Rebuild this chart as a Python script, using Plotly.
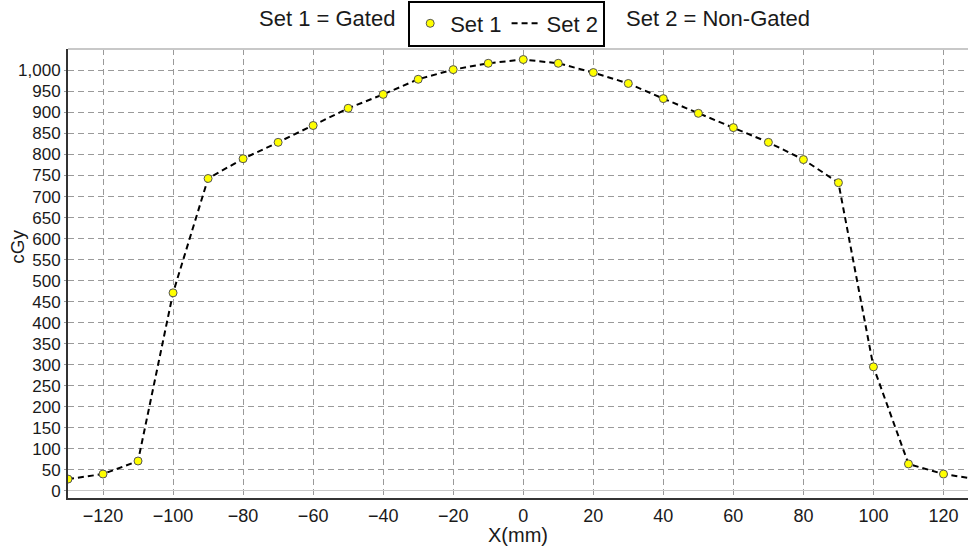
import plotly.graph_objects as go

# Dose profile across the field (mm vs cGy)
x_mm = [-130, -120, -110, -100, -90, -80, -70, -60, -50, -40, -30, -20, -10,
        0, 10, 20, 30, 40, 50, 60, 70, 80, 90, 100, 110, 120, 130]
set1_gated = [28, 40, 71, 471, 743, 790, 829, 869, 910, 943, 979, 1002, 1017,
              1026, 1017, 995, 969, 933, 898, 864, 829, 788, 733, 295, 64, 40, 27]
set2_nongated = [28, 40, 71, 471, 743, 790, 829, 869, 910, 943, 979, 1002, 1017,
                 1026, 1017, 995, 969, 933, 898, 864, 829, 788, 733, 295, 64, 40, 27]

x_ticks = [-120, -100, -80, -60, -40, -20, 0, 20, 40, 60, 80, 100, 120]
y_ticks = list(range(0, 1001, 50))

FONT = "Liberation Sans, Arial, sans-serif"
TXT = "#1a1a1a"
GRID = "#9a9a9a"

fig = go.Figure()
# dashed line drawn first so the markers sit on top of it
fig.add_trace(go.Scatter(
    x=x_mm, y=set2_nongated, mode="lines", name="Set 2", legendrank=2,
    line=dict(color="black", width=2, dash="6px,4px"),
))
fig.add_trace(go.Scatter(
    x=x_mm, y=set1_gated, mode="markers", name="Set 1", legendrank=1,
    marker=dict(color="#ffff00", size=8, line=dict(color="#555555", width=1)),
))

fig.update_layout(
    width=968, height=546,
    margin=dict(l=68, r=0, t=49, b=48),
    paper_bgcolor="white", plot_bgcolor="white",
    font=dict(family=FONT, color=TXT),
    showlegend=True,
    legend=dict(
        orientation="h", x=0.378, y=1.108, xanchor="left", yanchor="top",
        bordercolor="black", borderwidth=2, bgcolor="white",
        font=dict(size=22, family=FONT, color=TXT),
        itemwidth=30, traceorder="normal",
    ),
    xaxis=dict(
        range=[-130, 127], tickvals=x_ticks, showgrid=True,
        gridcolor=GRID, griddash="6px,4px", gridwidth=1,
        zeroline=False, showline=True, linecolor="#333333", linewidth=2,
        ticks="", tickfont=dict(size=18, family=FONT, color=TXT),
        title=dict(text="X(mm)", font=dict(size=20, family=FONT, color=TXT), standoff=2),
    ),
    yaxis=dict(
        range=[-17, 1051], tickvals=y_ticks, tickformat=",", showgrid=True,
        gridcolor=GRID, griddash="6px,4px", gridwidth=1,
        zeroline=True, zerolinecolor="#c8c8c8", zerolinewidth=1,
        showline=True, linecolor="#333333", linewidth=2,
        ticks="outside", ticklen=2, tickcolor=GRID,
        tickfont=dict(size=17, family=FONT, color=TXT),
    ),
    annotations=[
        dict(text="Set 1 = Gated", xref="paper", yref="paper", x=0.366, y=1.067,
             xanchor="right", yanchor="middle", showarrow=False,
             font=dict(size=22, family=FONT, color=TXT)),
        dict(text="Set 2 = Non-Gated", xref="paper", yref="paper", x=0.618, y=1.067,
             xanchor="left", yanchor="middle", showarrow=False,
             font=dict(size=22, family=FONT, color=TXT)),
        # y-axis title placed by hand, close to the tick labels
        dict(text="cGy", xref="paper", yref="paper", x=-0.057, y=0.559,
             xanchor="center", yanchor="middle", textangle=-90, showarrow=False,
             font=dict(size=19, family=FONT, color=TXT)),
    ],
    shapes=[
        dict(type="line", xref="paper", yref="paper", x0=0, x1=1, y0=1, y1=1,
             line=dict(color="#c8c8c8", width=2)),
    ],
)

fig.write_html("out.html")
